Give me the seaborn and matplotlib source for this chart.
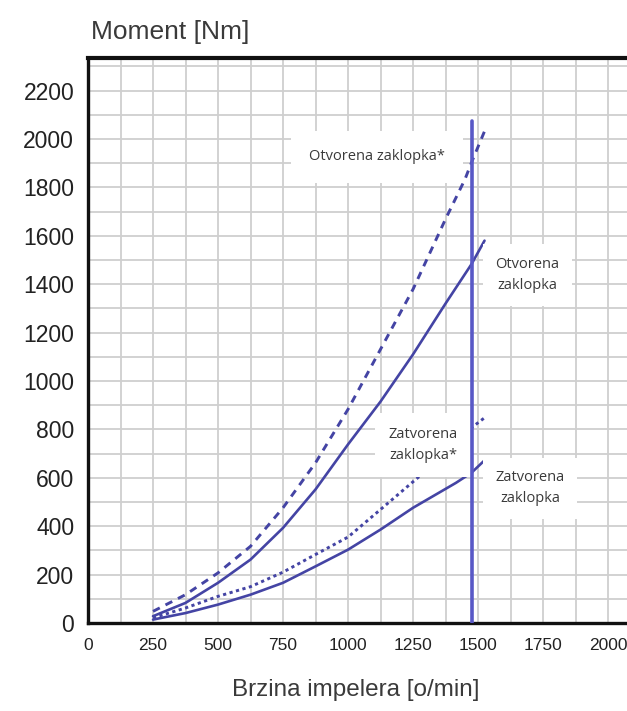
import numpy as np
import pandas as pd
import matplotlib
matplotlib.use("Agg")
import matplotlib.pyplot as plt
from matplotlib.ticker import MultipleLocator
import seaborn as sns

# speed [o/min] and torque [Nm]
otv_zvj_n = [250, 375, 500, 625, 750, 875, 1000, 1125, 1250, 1375, 1450, 1475, 1530]
otv_zvj_t = [48, 117, 207, 317, 476, 662, 883, 1131, 1379, 1669, 1834, 1903, 2045]

otv_n = [250, 375, 500, 625, 750, 875, 1000, 1125, 1250, 1375, 1475, 1525]
otv_t = [28, 83, 166, 262, 393, 552, 738, 915, 1110, 1320, 1483, 1580]

zat_zvj_n = [250, 375, 500, 625, 750, 875, 1000, 1125, 1245, 1350, 1425, 1475, 1525]
zat_zvj_t = [21, 62, 110, 150, 210, 283, 355, 469, 579, 674, 751, 807, 848]

zat_n = [250, 375, 500, 625, 750, 875, 1000, 1125, 1250, 1415, 1475, 1525]
zat_t = [14, 41, 76, 117, 166, 234, 303, 386, 476, 579, 621, 672]

rated_speed = 1475
rated_top = 2076

x_ticks = [0, 250, 500, 750, 1000, 1250, 1500, 1750, 2000]
y_ticks = list(range(0, 2201, 200))

sns.set_style("white")
plt.rcParams['font.family'] = ['Liberation Sans', 'DejaVu Sans']

fig = plt.figure(figsize=(6.27, 7.11), dpi=100)
ax = fig.add_axes([0.1404, 0.1238, 0.8596, 0.7947])

line_col = "#4444a4"

sns.lineplot(x=otv_zvj_n, y=otv_zvj_t, ax=ax, color=line_col, lw=2.1,
             linestyle=(0, (2.6, 2.2)), zorder=3)
sns.lineplot(x=otv_n, y=otv_t, ax=ax, color=line_col, lw=1.9, zorder=3)
sns.lineplot(x=zat_zvj_n, y=zat_zvj_t, ax=ax, color=line_col, lw=2.1,
             linestyle=(0, (1.1, 1.2)), zorder=3)
sns.lineplot(x=zat_n, y=zat_t, ax=ax, color=line_col, lw=1.9, zorder=3)

# rated speed line
ax.plot([rated_speed, rated_speed], [0, rated_top], color="#5858c6", lw=2.6, zorder=6)

# labels on white boxes (they hide the curves behind them)
box = dict(facecolor="white", edgecolor="none")
txt = dict(family=["Open Sans", "DejaVu Sans"], fontsize=10.5, color="#3a3a3a",
           ha="center", va="center", zorder=5, linespacing=1.55)
ax.text(1110, 1926, "Otvorena zaklopka*", bbox=dict(box, pad=13), **txt)
ax.text(1690, 1438, "Otvorena\nzaklopka", bbox=dict(box, pad=9), **txt)
ax.text(1290, 735, "Zatvorena\nzaklopka*", bbox=dict(box, pad=10), **txt)
ax.text(1700, 556, "Zatvorena\nzaklopka", bbox=dict(box, pad=9), **txt)

ax.set_xlim(0, 2073)
ax.set_ylim(0, 2335)
ax.set_xticks(x_ticks)
ax.set_yticks(y_ticks)
ax.xaxis.set_minor_locator(MultipleLocator(125))
ax.yaxis.set_minor_locator(MultipleLocator(100))
ax.grid(True, which="both", color="#cfcfcf", lw=1.3, zorder=0)
ax.set_axisbelow(True)
ax.tick_params(axis="both", which="both", length=0, colors="#222222")
ax.tick_params(axis="y", labelsize=16.5, pad=10)
ax.tick_params(axis="x", labelsize=12.5, pad=11)

for s in ["left", "bottom", "top"]:
    ax.spines[s].set_color("#111111")
    ax.spines[s].set_linewidth(2.4)
ax.spines["top"].set_linewidth(3.0)
ax.spines["right"].set_visible(False)

ax.set_xlabel("")
ax.set_ylabel("")
fig.text(0.145, 0.955, "Moment [Nm]", fontsize=19, color="#3a3a3a", ha="left", va="center")
fig.text(0.568, 0.030, "Brzina impelera [o/min]", fontsize=17.5, color="#3a3a3a",
         ha="center", va="center")

fig.savefig("out.png", dpi=100)
